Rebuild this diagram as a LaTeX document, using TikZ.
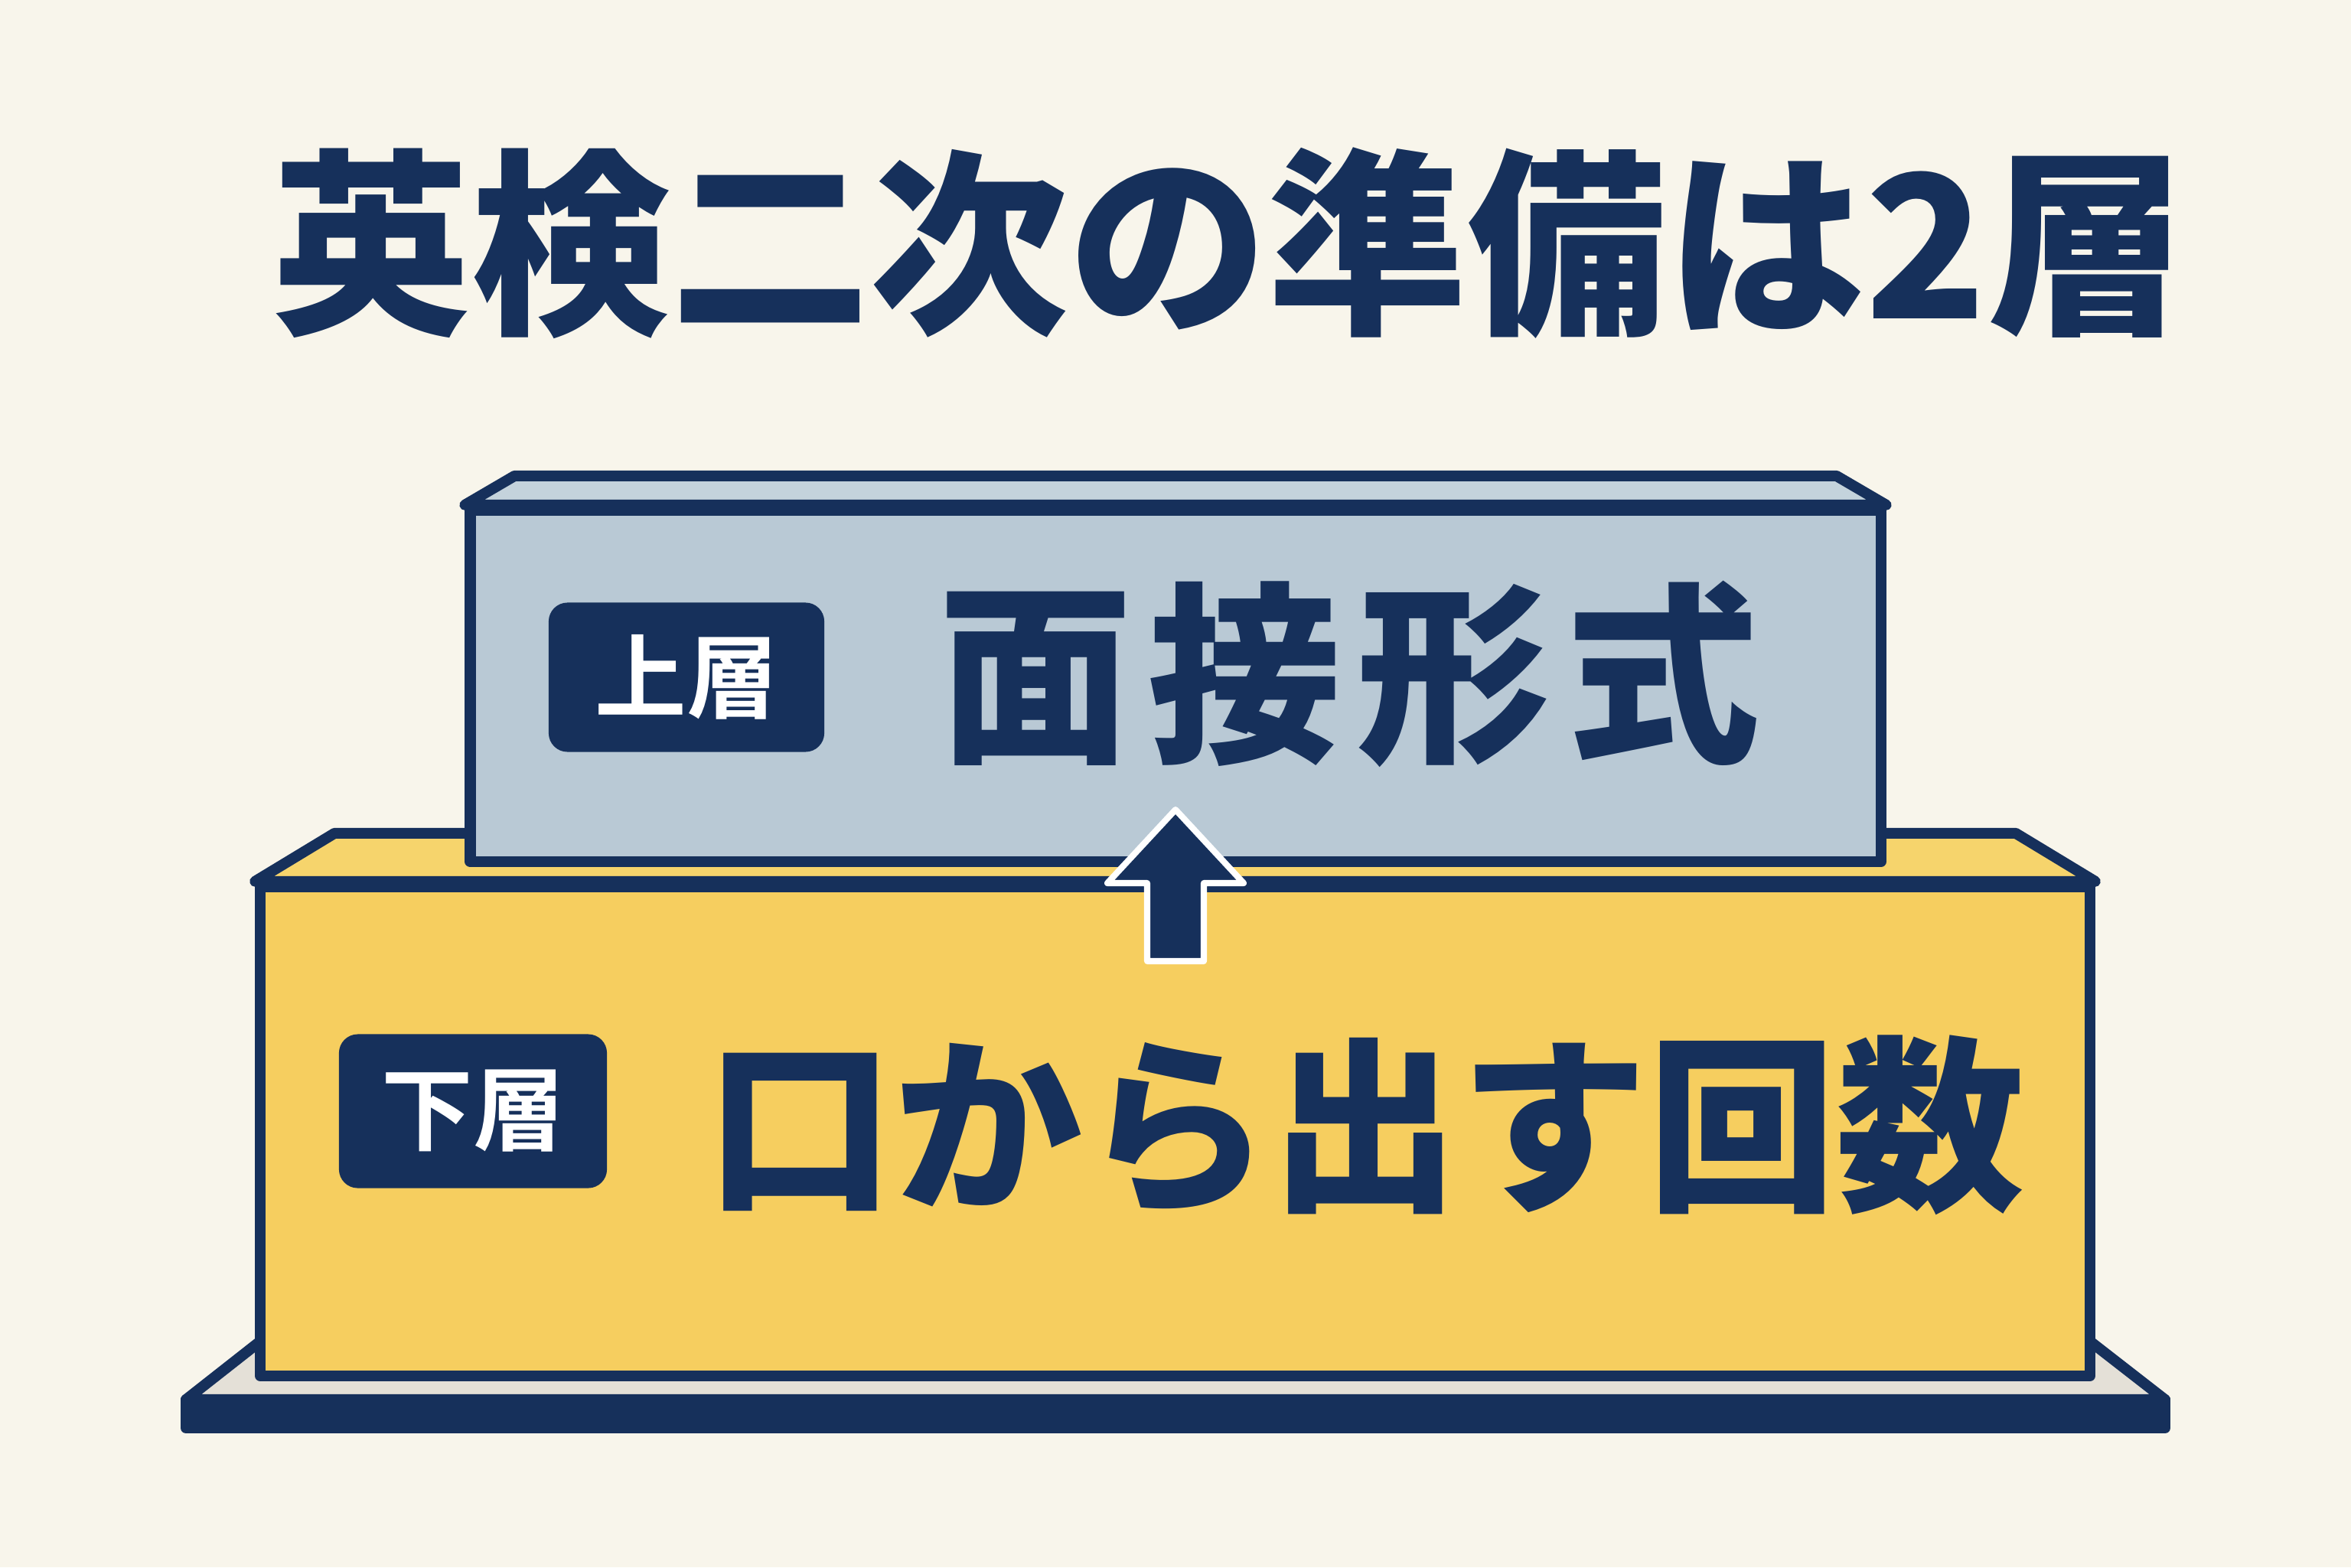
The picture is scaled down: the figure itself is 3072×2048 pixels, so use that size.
\documentclass[tikz,border=0pt]{standalone}
\usepackage{fontspec}
\newfontfamily\jpfont{Noto Sans CJK JP Black}
\newfontfamily\jpbold{Noto Sans CJK JP Bold}
\usepackage{tikz}
\usetikzlibrary{calc}
\definecolor{navy}{HTML}{16305B}
\definecolor{paper}{HTML}{F8F5EB}
\definecolor{upperfill}{HTML}{B9C9D5}
\definecolor{uppertopfill}{HTML}{C4D3DC}
\definecolor{lowerfill}{HTML}{F6CE5F}
\definecolor{lowertopfill}{HTML}{F6D46C}
\definecolor{basefill}{HTML}{E4E0D7}
\tikzset{
  layerface/.style={draw=navy,line width=4pt,line join=round,rectangle,inner sep=0pt},
  topface/.style={draw=navy,line width=4pt,line join=round},
  badge/.style={fill=navy,rounded corners=7pt,text=white,inner sep=0pt,font=\jpbold\fontsize{34pt}{34pt}\selectfont},
  layertext/.style={text=navy,inner sep=0pt},
  liftarrow/.style={fill=navy,draw=white,line width=2.3pt,line join=round}
}

\begin{document}
\begin{tikzpicture}[x=0.01cm,y=-0.01cm]
  \fill[paper] (0,0) rectangle (3072,2048);
  \node[layertext,font=\jpfont\fontsize{74pt}{74pt}\selectfont] (title) at (1606,318) {英検二次の準備は2層};
  % base plate
  \filldraw[topface,fill=basefill] (243,1829) -- (341,1752) -- (2730,1752) -- (2829,1829) -- cycle;
  \filldraw[topface,fill=navy] (243,1829) rectangle (2829,1866);
  % lower layer
  \node[layerface,fill=lowerfill,minimum width=23.89cm,minimum height=6.39cm] (lower) at (1535.5,1478.5) {};
  \filldraw[topface,fill=lowertopfill] (lower.north west) -- ++(104,-63) -- ($(lower.north east)+(-104,-63)$) -- (lower.north east) -- cycle;
  % upper layer
  \node[layerface,fill=upperfill,minimum width=18.42cm,minimum height=4.59cm] (upper) at (1536,896.5) {};
  \filldraw[topface,fill=uppertopfill] (upper.north west) -- ++(65,-38) -- ($(upper.north east)+(-65,-38)$) -- (upper.north east) -- cycle;
  % arrow between the layers
  \filldraw[liftarrow] (1536,1058) -- (1625,1154) -- (1573,1154) -- (1573,1256) -- (1499,1256) -- (1499,1154) -- (1447,1154) -- cycle;
  \node[badge,minimum width=3.6cm,minimum height=1.95cm] (upbadge) at (897,885) {上層};
  \node[badge,minimum width=3.5cm,minimum height=2.01cm] (lowbadge) at (618,1452) {下層};
  \node[layertext,font=\jpfont\fontsize{72pt}{72pt}\selectfont\addfontfeature{LetterSpace=8}] (upname) at (1763,881) {面接形式};
  \node[layertext,font=\jpfont\fontsize{70pt}{70pt}\selectfont] (lowname) at (1784,1470) {口から出す回数};
\end{tikzpicture}
\end{document}
